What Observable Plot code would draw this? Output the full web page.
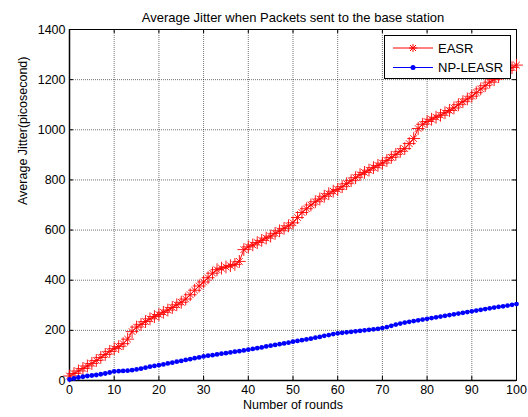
<!DOCTYPE html>
<html><head><meta charset="utf-8">
<script src="https://cdn.jsdelivr.net/npm/d3@7"></script>
<script src="https://cdn.jsdelivr.net/npm/@observablehq/plot@0.6"></script>
<style>
html,body{margin:0;padding:0;background:#fff;}
#wrap{position:relative;width:528px;height:417px;font-family:"Liberation Sans",Arial,sans-serif;}
#legend{position:absolute;left:384px;top:35px;width:127px;height:44px;border:1px solid #000;background:#fff;box-sizing:border-box;}
</style></head><body><div id="wrap"></div>
<script>
const titleText = "Average Jitter when Packets sent to the base station";
const xLabelText = "Number of rounds";
const yLabelText = "Average Jitter(picosecond)";
const seriesNames = ["EASR", "NP-LEASR"];
const seriesColors = ["#ff0000", "#0000ff"];
const xTicks = [0, 10, 20, 30, 40, 50, 60, 70, 80, 90, 100];
const yTicks = [0, 200, 400, 600, 800, 1000, 1200, 1400];
const rounds = [0,1,2,3,4,5,6,7,8,9,10,11,12,13,14,15,16,17,18,19,20,21,22,23,24,25,26,27,28,29,30,31,32,33,34,35,36,37,38,39,40,41,42,43,44,45,46,47,48,49,50,51,52,53,54,55,56,57,58,59,60,61,62,63,64,65,66,67,68,69,70,71,72,73,74,75,76,77,78,79,80,81,82,83,84,85,86,87,88,89,90,91,92,93,94,95,96,97,98,99,100];
const easr = [18,28,38,48,58,68,80,92,104,116,127,135,147,165,195,213,224,235,246,255,263,272,281,291,302,312,325,342,360,377,393,410,428,442,448,453,458,463,475,522,533,541,550,559,568,576,587,597,607,617,629,650,670,685,700,713,724,735,745,755,762,773,785,797,809,821,830,839,849,858,867,878,890,902,914,925,945,965,1005,1022,1033,1042,1050,1058,1068,1077,1087,1100,1112,1123,1134,1148,1163,1176,1190,1200,1212,1225,1237,1248,1258];
const npleasr = [4,8,12,15,18,20,22,25,28,32,36,37,38,39,41,44,47,51,55,58,61,64,68,71,75,78,82,85,89,92,96,99,101,104,107,109,112,115,117,120,123,126,129,132,136,139,142,145,148,151,155,158,161,164,167,171,174,178,181,185,188,190,192,194,196,198,200,202,204,206,209,213,218,223,227,231,234,237,240,243,246,249,252,255,258,261,264,267,270,273,276,279,282,285,288,291,294,296,299,302,305];

const redData = rounds.map((r, i) => ({x: r, y: easr[i]}));
const blueData = rounds.map((r, i) => ({x: r, y: npleasr[i]}));

const font = "Liberation Sans, Arial, sans-serif";
const chart = Plot.plot({
  width: 528, height: 417,
  marginLeft: 69, marginRight: 12, marginTop: 29, marginBottom: 37,
  style: {fontFamily: font, fontSize: "12.5px", color: "#000", background: "#fff"},
  x: {domain: [0, 100]},
  y: {domain: [0, 1400]},
  marks: [
    Plot.gridX(xTicks, {stroke: "#000", strokeOpacity: 0.55, strokeDasharray: "1,1"}),
    Plot.gridY(yTicks, {stroke: "#000", strokeOpacity: 0.55, strokeDasharray: "1,1"}),
    Plot.tickX(xTicks, {x: d => d, stroke: "#000", insetTop: 347}),
    Plot.tickX(xTicks, {x: d => d, stroke: "#000", insetBottom: 347}),
    Plot.tickY(yTicks, {y: d => d, stroke: "#000", insetLeft: 443}),
    Plot.tickY(yTicks, {y: d => d, stroke: "#000", insetRight: 443}),
    Plot.frame({stroke: "#000", strokeWidth: 1}),
    Plot.ruleX([0], {stroke: "#000", strokeWidth: 1.5}),
    Plot.ruleY([0], {stroke: "#000", strokeWidth: 1.5}),
    Plot.line(redData, {x: "x", y: "y", stroke: seriesColors[0], strokeWidth: 1}),
    Plot.dot(redData, {x: "x", y: "y", symbol: "plus", r: 4.2, stroke: seriesColors[0], strokeWidth: 1, strokeOpacity: 0.9}),
    Plot.dot(redData, {x: "x", y: "y", symbol: "times", r: 3.1, stroke: seriesColors[0], strokeWidth: 1, strokeOpacity: 0.9}),
    Plot.line(blueData, {x: "x", y: "y", stroke: seriesColors[1], strokeWidth: 1}),
    Plot.dot(blueData, {x: "x", y: "y", r: 2.4, fill: seriesColors[1], stroke: "none"}),
    Plot.axisX(xTicks, {tickSize: 0, tickPadding: 5, label: null, fontSize: 12.5, tickFormat: d3.format("d")}),
    Plot.axisY(yTicks, {tickSize: 0, tickPadding: 4, label: null, fontSize: 12.5, tickFormat: d3.format("d")}),
    Plot.text([titleText], {frameAnchor: "top", dy: -17, fontSize: 13}),
    Plot.text([xLabelText], {frameAnchor: "bottom", dy: 28, fontSize: 12.5}),
    Plot.text([yLabelText], {frameAnchor: "left", dx: -47, rotate: -90, fontSize: 12.5})
  ]
});
const wrap = document.getElementById("wrap");
wrap.appendChild(chart);

// legend box
const legend = d3.select(wrap).append("div").attr("id", "legend");
const lsvg = legend.append("svg").attr("width", 125).attr("height", 42);
seriesNames.forEach((name, i) => {
  const g = lsvg.append("g").attr("transform", `translate(0,${12 + i * 19.5})`);
  g.append("line").attr("x1", 8).attr("x2", 48).attr("y1", 0).attr("y2", 0)
    .attr("stroke", seriesColors[i]).attr("stroke-width", 1);
  if (i === 0) {
    g.append("path").attr("d", "M24,0H32M28,-4V4M25,-3L31,3M25,3L31,-3")
      .attr("stroke", seriesColors[i]).attr("fill", "none");
  } else {
    g.append("circle").attr("cx", 28).attr("cy", 0).attr("r", 2.5).attr("fill", seriesColors[i]);
  }
  g.append("text").attr("x", 53).attr("y", 0).attr("dy", "0.35em")
    .attr("font-family", font).attr("font-size", 13).text(name);
});
</script>
</body></html>
